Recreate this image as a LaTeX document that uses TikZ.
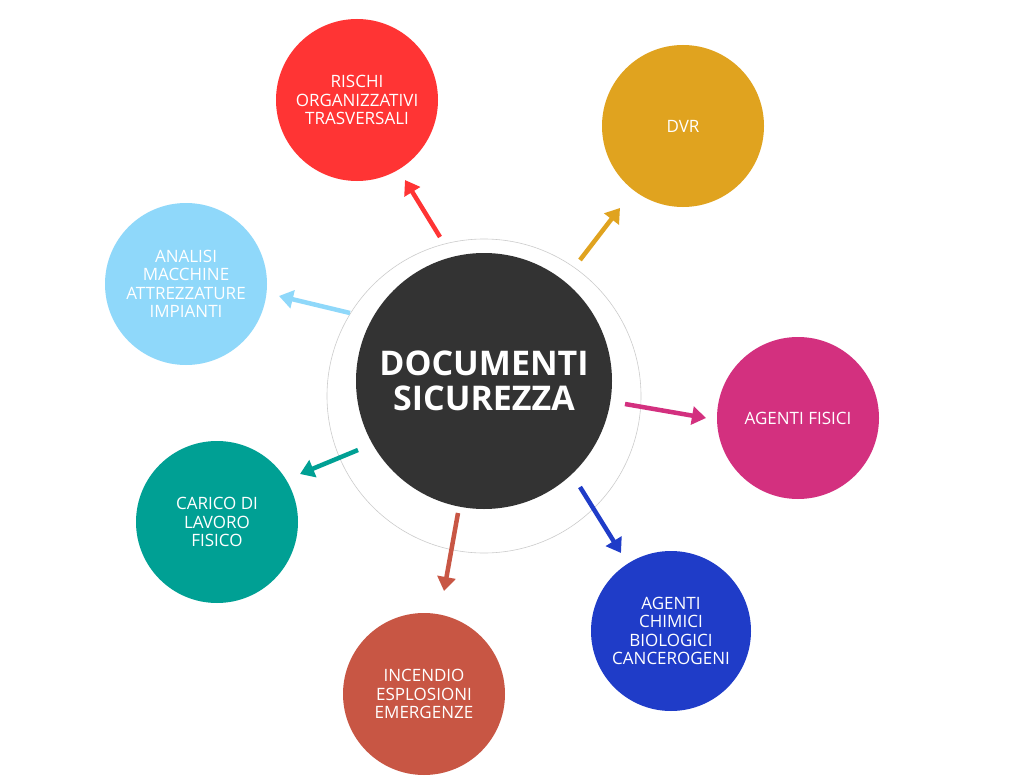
\documentclass[tikz,border=0pt]{standalone}
\usepackage{fontspec}
\setmainfont{Open Sans}
\usetikzlibrary{arrows.meta}
\definecolor{cred}{HTML}{FF3434}
\definecolor{cdvr}{HTML}{E0A31F}
\definecolor{clb}{HTML}{8FD8FA}
\definecolor{cmag}{HTML}{D3307F}
\definecolor{cteal}{HTML}{00A094}
\definecolor{cbr}{HTML}{C85644}
\definecolor{cblue}{HTML}{1F3CC8}
\tikzset{
 sat/.style={circle,minimum size=162pt,inner sep=0pt,text=white,align=center,font=\fontsize{17}{18.5}\selectfont},
 arr/.style={line width=4.5pt,-{Triangle[length=14pt,width=18pt]}}
}
\begin{document}
\begin{tikzpicture}[x=1pt,y=-1pt]
\useasboundingbox[fill=white] (0,0) rectangle (1013,776);
\draw[gray!40,line width=0.6pt] (484,396) circle[radius=157];
\node[circle,fill=black!80,minimum size=256pt,text=white,align=center,font=\bfseries\fontsize{34}{35}\selectfont] (c) at (484,381) {DOCUMENTI\\SICUREZZA};
\node[sat,fill=cred] (r) at (357,100) {RISCHI\\ORGANIZZATIVI\\TRASVERSALI};
\node[sat,fill=cdvr] (d) at (683,126) {DVR};
\node[sat,fill=clb] (l) at (186,284) {ANALISI\\MACCHINE\\ATTREZZATURE\\IMPIANTI};
\node[sat,fill=cmag] (m) at (798,418) {AGENTI FISICI};
\node[sat,fill=cteal] (t) at (217,522) {CARICO DI\\LAVORO\\FISICO};
\node[sat,fill=cbr] (b) at (424,694) {INCENDIO\\ESPLOSIONI\\EMERGENZE};
\node[sat,fill=cblue,minimum size=160pt] (u) at (671,631) {AGENTI\\CHIMICI\\BIOLOGICI\\CANCEROGENI};
\coordinate (a1) at (440,237); \coordinate (e1) at (405,180);
\coordinate (a2) at (580,260); \coordinate (e2) at (620,208);
\coordinate (a3) at (350,313); \coordinate (e3) at (279,296);
\coordinate (a4) at (625,404); \coordinate (e4) at (706,418);
\coordinate (a5) at (358,450); \coordinate (e5) at (300,474);
\coordinate (a6) at (458,513); \coordinate (e6) at (444,591);
\coordinate (a7) at (580,487); \coordinate (e7) at (621,553);
\draw[arr,cred] (a1) -- (e1);
\draw[arr,cdvr] (a2) -- (e2);
\draw[arr,clb] (a3) -- (e3);
\draw[arr,cmag] (a4) -- (e4);
\draw[arr,cteal] (a5) -- (e5);
\draw[arr,cbr] (a6) -- (e6);
\draw[arr,cblue] (a7) -- (e7);
\end{tikzpicture}
\end{document}
